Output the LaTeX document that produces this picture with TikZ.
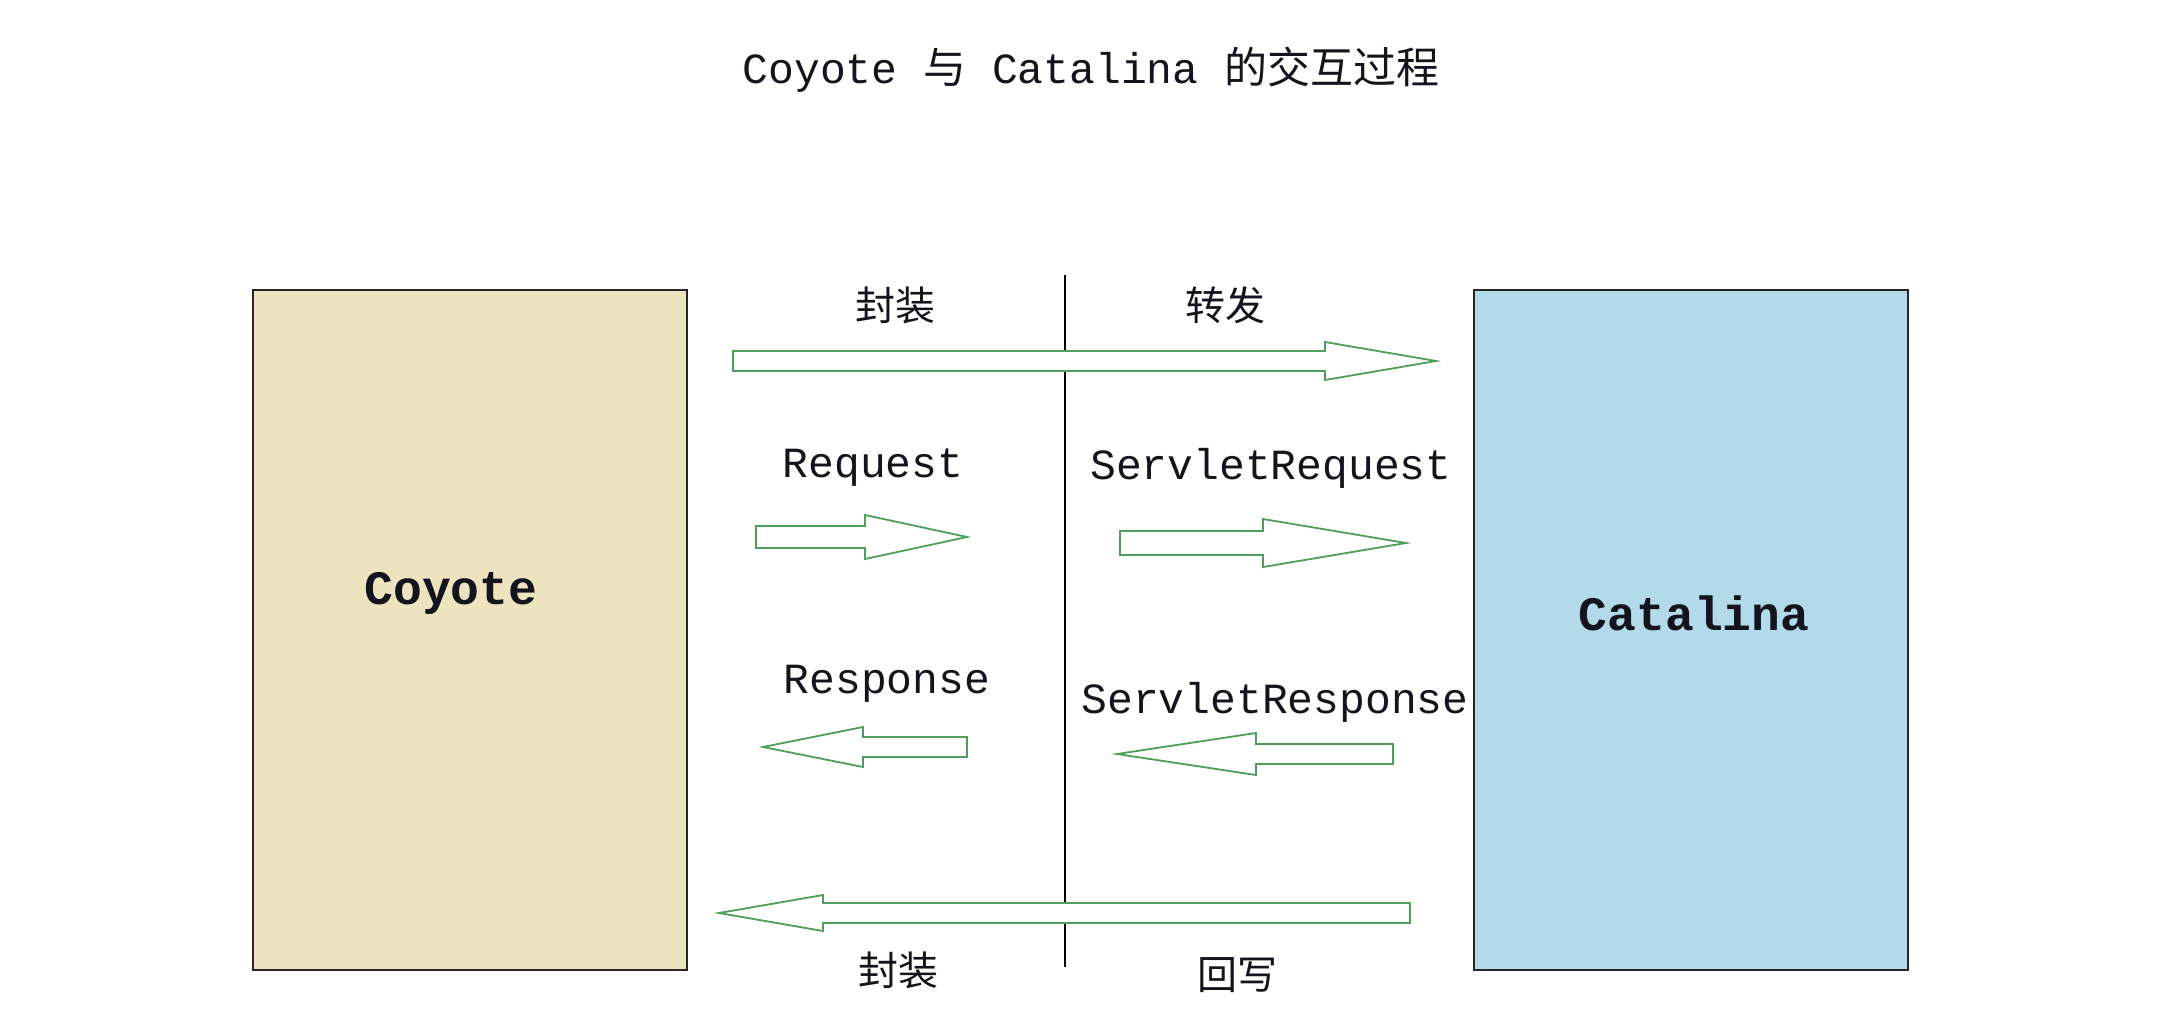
\documentclass[tikz,border=0pt]{standalone}
\usepackage{fontspec}
\newfontfamily\cjk{Noto Sans CJK SC}
\newfontfamily\mono{Liberation Mono}
\definecolor{beige}{RGB}{237,228,191}
\definecolor{skyb}{RGB}{178,218,232}
\definecolor{arrgreen}{RGB}{80,158,92}
\definecolor{ink}{RGB}{20,20,30}
\tikzset{
  box/.style={draw=black!85, line width=1.8pt, minimum width=434pt, minimum height=680pt, inner sep=0pt},
  boxlabel/.style={font=\fontsize{48}{50}\selectfont\mono\bfseries, text=ink},
  lbl/.style={font=\fontsize{43}{45}\selectfont\mono, text=ink},
  cjklbl/.style={font=\fontsize{40}{44}\selectfont\cjk, text=ink},
  blockarr/.style={draw=arrgreen, fill=white, line width=1.8pt, line join=miter},
  divider/.style={draw=black, line width=1.8pt}
}
% #1 tail x, #2 tip x, #3 centre y, #4 body half height, #5 head base x, #6 head half height
\newcommand\barrow[6]{%
  \draw[blockarr] (#1,#3-#4) -- (#5,#3-#4) -- (#5,#3-#6) -- (#2,#3) -- (#5,#3+#6) -- (#5,#3+#4) -- (#1,#3+#4) -- cycle;}
\begin{document}
\begin{tikzpicture}[x=1pt,y=-1pt]
\useasboundingbox[fill=white] (0,0) rectangle (2176,1034);
% title
\node[lbl] (title) at (1091,70) {Coyote {\cjk 与} Catalina {\cjk 的交互过程}};
% boxes
\node[box, fill=beige] (coyote) at (470,630) {};
\node[box, fill=skyb] (catalina) at (1691,630) {};
\node[boxlabel] (coyotelbl) at (451,593) {Coyote};
\node[boxlabel] (catalinalbl) at (1694,613) {Catalina};
% divider
\coordinate (dtop) at (1065,275);
\coordinate (dbot) at (1065,967);
\draw[divider] (dtop) -- (dbot);
% arrows
\barrow{733}{1436}{361}{10}{1325}{19}
\barrow{756}{967}{537}{11}{865}{22}
\barrow{1120}{1406}{543}{12}{1263}{24}
\barrow{967}{763}{747}{10}{863}{20}
\barrow{1393}{1117}{754}{10}{1256}{21}
\barrow{1410}{719}{913}{10}{823}{18}
% labels
\node[cjklbl] (fz1) at (895,305) {封装};
\node[cjklbl] (zf) at (1225,305) {转发};
\node[lbl] (req) at (873,468) {Request};
\node[lbl] (sreq) at (1271,468) {ServletRequest};
\node[lbl] (resp) at (887,684) {Response};
\node[lbl] (sresp) at (1275,702) {ServletResponse};
\node[cjklbl] (fz2) at (898,970) {封装};
\node[cjklbl] (hx) at (1237,975) {回写};
\end{tikzpicture}
\end{document}
